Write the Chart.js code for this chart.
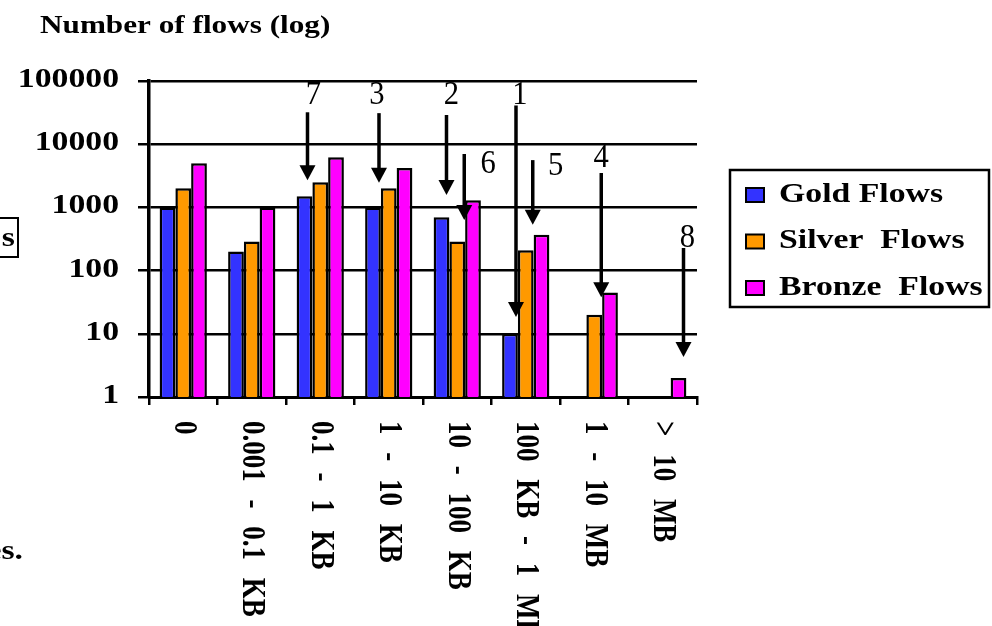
<!DOCTYPE html>
<html>
<head>
<meta charset="utf-8">
<script src="https://cdn.jsdelivr.net/npm/chart.js@4"></script>
<style>
html, body { margin: 0; padding: 0; background: #fff; }
#wrap { position: relative; width: 992px; height: 626px; }
</style>
</head>
<body>
<div id="wrap"><canvas id="flows"></canvas></div>
<script>
// flow size buckets and counts per class (log scale)
const categories = ['0', '0.001 - 0.1 KB', '0.1 - 1 KB', '1 - 10 KB', '10 - 100 KB', '100 KB - 1 MB', '1 - 10 MB', '> 10 MB'];
const gold = [1000, 200, 1500, 1000, 700, 10, null, null];
const silver = [2000, 290, 2500, 2000, 290, 210, 20, null];
const bronze = [5000, 1000, 6200, 4200, 1300, 370, 45, 2];
const yTicks = [1, 10, 100, 1000, 10000, 100000];

// numbered arrows: bar (category, series), arrow tail / tip / label baseline in data units
const notes = [
  {text: '7', cat: 2, series: 0, dx: 3, tail: 32000, tip: 2700, label: 44000, ldx: 6},
  {text: '3', cat: 3, series: 0, dx: 6, tail: 31000, tip: 2450, label: 44000, ldx: -2},
  {text: '2', cat: 4, series: 0, dx: 5, tail: 29000, tip: 1570, label: 44000, ldx: 5},
  {text: '6', cat: 4, series: 1, dx: 7, tail: 7000, tip: 630, label: 3500, ldx: 24},
  {text: '1', cat: 5, series: 0, dx: 6, tail: 41000, tip: 18.5, label: 44000, ldx: 4},
  {text: '5', cat: 5, series: 1, dx: 7, tail: 5600, tip: 530, label: 3260, ldx: 23},
  {text: '4', cat: 6, series: 1, dx: 7, tail: 3500, tip: 38, label: 4360, ldx: 0},
  {text: '8', cat: 7, series: 2, dx: 5, tail: 228, tip: 4.3, label: 236, ldx: 4}
];

const SERIF = '"Liberation Serif", "Times New Roman", serif';

function wideText(ctx, str, x, y, sx, align) {
  ctx.save();
  ctx.translate(x, y);
  ctx.scale(sx, 1);
  ctx.textAlign = align;
  ctx.fillText(str, 0, 0);
  ctx.restore();
}

const decor = {
  id: 'decor',
  afterDraw(chart) {
    const ctx = chart.ctx;
    const xs = chart.scales.x, ys = chart.scales.y;
    ctx.save();
    ctx.fillStyle = '#000';
    ctx.strokeStyle = '#000';

    // title
    ctx.font = 'bold 26px ' + SERIF;
    ctx.textBaseline = 'alphabetic';
    wideText(ctx, 'Number of flows (log)', 40, 33, 1.2, 'left');

    // y tick labels
    ctx.font = 'bold 27px ' + SERIF;
    ctx.textBaseline = 'middle';
    yTicks.forEach(v => wideText(ctx, String(v), 119, ys.getPixelForValue(v) - 1, 1.25, 'right'));

    // x labels, turned clockwise, words spread out
    const spaced = 'wordSpacing' in ctx;
    categories.forEach((c, i) => {
      ctx.save();
      ctx.translate(xs.getPixelForValue(i), 421);
      ctx.scale(1.25, 1);
      ctx.rotate(Math.PI / 2);
      ctx.textAlign = 'left';
      ctx.textBaseline = 'middle';
      if (spaced) ctx.wordSpacing = '11px';
      ctx.fillText(spaced ? c : c.replace(/ /g, '   '), 0, 0);
      ctx.restore();
    });

    // arrows
    notes.forEach(n => {
      const bar = chart.getDatasetMeta(n.series).data[n.cat];
      const ax = bar.x + n.dx;
      const y0 = ys.getPixelForValue(n.tail);
      const y1 = ys.getPixelForValue(n.tip);
      ctx.lineWidth = 3.5;
      ctx.beginPath();
      ctx.moveTo(ax, y0);
      ctx.lineTo(ax, y1 - 12);
      ctx.stroke();
      ctx.beginPath();
      ctx.moveTo(ax - 8, y1 - 15);
      ctx.lineTo(ax + 8, y1 - 15);
      ctx.lineTo(ax, y1);
      ctx.closePath();
      ctx.fill();
      ctx.font = '34px ' + SERIF;
      ctx.textBaseline = 'alphabetic';
      wideText(ctx, n.text, ax + n.ldx, ys.getPixelForValue(n.label), 0.9, 'center');
    });

    // legend
    ctx.lineWidth = 2.5;
    ctx.strokeRect(730, 170, 259, 137);
    ctx.font = 'bold 27px ' + SERIF;
    ctx.textBaseline = 'middle';
    chart.data.datasets.forEach((ds, i) => {
      const cy = 195 + i * 46.5;
      ctx.fillStyle = ds.backgroundColor;
      ctx.fillRect(746, cy - 7, 18, 14);
      ctx.lineWidth = 2;
      ctx.strokeRect(746, cy - 7, 18, 14);
      ctx.fillStyle = '#000';
      wideText(ctx, ds.label, 779, cy, 1.25, 'left');
    });

    // cut-off text at the left edge of the figure
    ctx.lineWidth = 2;
    ctx.strokeRect(-10, 218, 28, 39);
    wideText(ctx, 's', 15, 239, 1.25, 'right');
    ctx.textBaseline = 'alphabetic';
    wideText(ctx, 'es.', 23, 559, 1.25, 'right');
    ctx.restore();
  }
};

new Chart(document.getElementById('flows'), {
  type: 'bar',
  data: {
    labels: categories,
    datasets: [
      {label: 'Gold Flows', data: gold, backgroundColor: '#3333FF'},
      {label: 'Silver  Flows', data: silver, backgroundColor: '#FF9900'},
      {label: 'Bronze  Flows', data: bronze, backgroundColor: '#FF00FF'}
    ]
  },
  options: {
    responsive: true,
    maintainAspectRatio: false,
    animation: false,
    layout: {padding: {top: 81, right: 295, bottom: 0, left: 0}},
    datasets: {
      bar: {
        borderColor: '#000',
        borderWidth: 2.5,
        categoryPercentage: 0.69,
        barPercentage: 1.0
      }
    },
    plugins: {
      legend: {display: false},
      tooltip: {enabled: false}
    },
    scales: {
      x: {
        ticks: {display: false},
        grid: {offset: true, drawOnChartArea: false, drawTicks: true, tickLength: 8, color: '#000', lineWidth: 2.5},
        border: {display: true, color: '#000', width: 3},
        afterFit: s => { s.height = 229; }
      },
      y: {
        type: 'logarithmic',
        min: 1,
        max: 100000,
        ticks: {display: false},
        afterBuildTicks: s => { s.ticks = yTicks.map(v => ({value: v, major: true})); },
        grid: {color: '#000', lineWidth: 2.5, tickLength: 11, drawTicks: true},
        border: {display: true, color: '#000', width: 3.5},
        afterFit: s => { s.width = 149; }
      }
    }
  },
  plugins: [decor]
});
</script>
</body>
</html>
